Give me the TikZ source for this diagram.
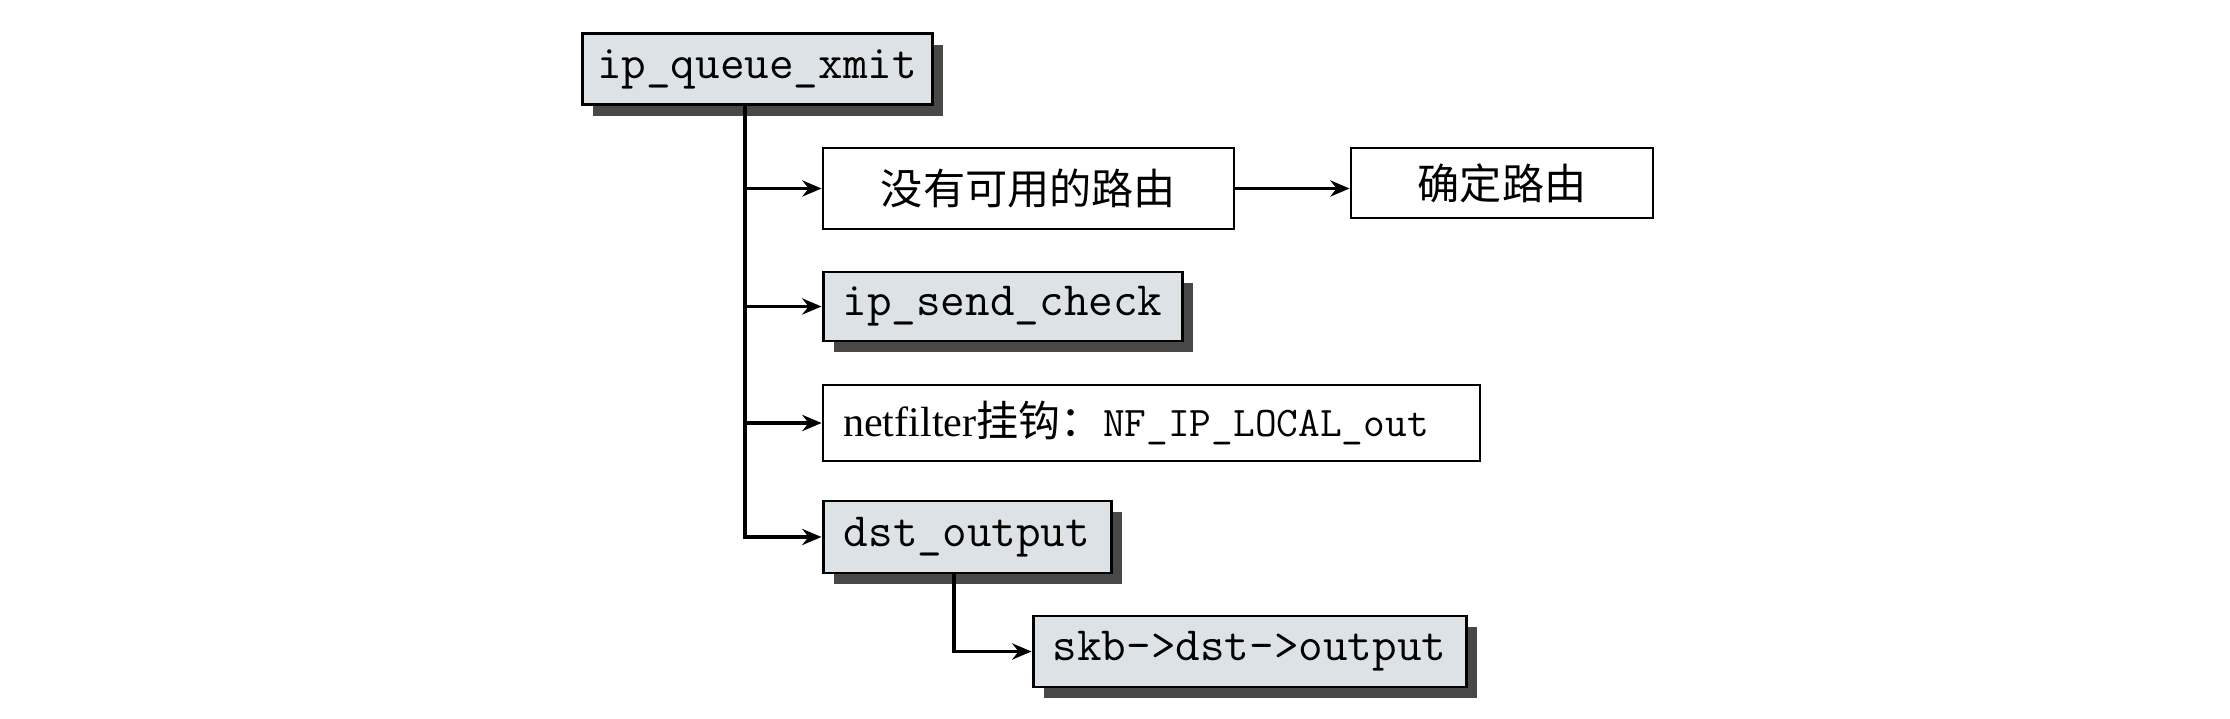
\documentclass[tikz,border=0pt]{standalone}
\usepackage{fontspec}
\setmainfont{Liberation Serif}
\newfontfamily\cjk{Noto Sans CJK SC}
\usetikzlibrary{shadows,arrows.meta}
\definecolor{boxfill}{RGB}{220,226,229}
\definecolor{shadowgray}{RGB}{72,72,72}
\begin{document}
\begin{tikzpicture}[x=0.1mm,y=-0.1mm,
  fbox/.style={draw, line width=0.85pt, fill=boxfill, inner sep=0pt,
    font=\ttfamily\fontsize{13.6}{15}\selectfont,
    drop shadow={shadow xshift=1.1mm, shadow yshift=-1.1mm, fill=shadowgray, opacity=1}},
  wbox/.style={draw, line width=0.8pt, fill=white, inner sep=0pt,
    font=\fontsize{12}{14}\selectfont},
  arr/.style={line width=1.1pt, -{Stealth[length=5.5pt,width=4.6pt,inset=1.8pt]}},
  ln/.style={line width=1.1pt}]
\useasboundingbox (0,0) rectangle (2230,719);

\node[fbox, minimum width=35mm, minimum height=7.1mm] (q) at (757,69.5) {ip\_queue\_xmit};
\node[wbox, minimum width=41.1mm, minimum height=8.1mm] (noroute) at (1028.5,188.5) {\cjk 没有可用的路由};
\node[wbox, minimum width=30.2mm, minimum height=7.0mm] (route) at (1502,183) {\cjk 确定路由};
\node[fbox, minimum width=35.9mm, minimum height=6.9mm] (check) at (1002.5,306.5) {ip\_send\_check};
\node[wbox, text width=61.7mm, inner xsep=2mm, align=left, minimum height=7.6mm] (nf) at (1151.5,423)
  {netfilter{\cjk 挂钩：}{\ttfamily\fontsize{12}{13}\selectfont NF\_IP\_LOCAL\_out}};
\node[fbox, minimum width=28.8mm, minimum height=7.2mm] (dst) at (967,537) {dst\_output};
\node[fbox, minimum width=43.3mm, minimum height=7.1mm] (skb) at (1249.5,651.5) {skb->dst->output};

\coordinate (tt) at (745,0);
\coordinate (dd) at (954,0);

\draw[arr] (q.south -| tt) |- (dst.west);
\draw[arr] (noroute.west -| tt) -- (noroute.west);
\draw[arr] (check.west -| tt) -- (check.west);
\draw[arr] (nf.west -| tt) -- (nf.west);
\draw[arr] (noroute.east) -- (noroute.east -| route.west);
\draw[arr] (dst.south -| dd) |- (skb.west);
\end{tikzpicture}
\end{document}
